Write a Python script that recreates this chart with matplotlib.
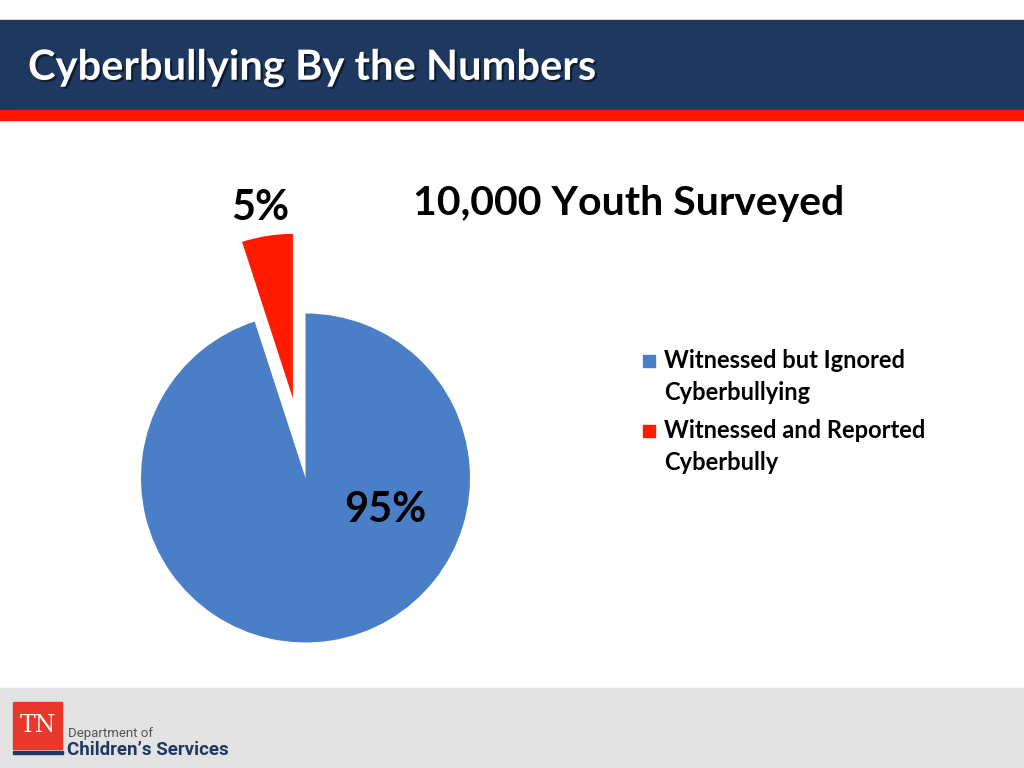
import matplotlib
matplotlib.use("Agg")
import matplotlib.pyplot as plt
from matplotlib.patches import Rectangle
import matplotlib.patheffects as pe

categories = ["Witnessed but Ignored\nCyberbullying", "Witnessed and Reported\nCyberbully"]
values = [95, 5]
value_labels = ["95%", "5%"]
colors = ["#4A7EC7", "#FF1A00"]
title = "Cyberbullying By the Numbers"
subtitle = "10,000 Youth Surveyed"

W, H = 1024, 768
fig = plt.figure(figsize=(W / 100, H / 100), dpi=100)
fig.patch.set_facecolor("white")

FONT = "Lato"

# background / decoration axes in pixel coords (y down)
bg = fig.add_axes([0, 0, 1, 1])
bg.set_xlim(0, W)
bg.set_ylim(H, 0)
bg.axis("off")
bg.add_patch(Rectangle((0, 20), W, 90, color="#1E3860", zorder=1))
bg.add_patch(Rectangle((0, 110), W, 10, color="#FF1500", zorder=1))
bg.add_patch(Rectangle((0, 688), W, 80, color="#E3E3E3", zorder=1))
bg.text(28, 68, title, color="white", fontsize=30, fontweight="bold",
        family=FONT, va="center", ha="left", zorder=3,
        path_effects=[pe.withSimplePatchShadow(offset=(1.5, -1.5), shadow_rgbFace="black", alpha=0.5)])
# logo
bg.add_patch(Rectangle((13, 702), 49, 47, color="#E8382B", zorder=2))
bg.add_patch(Rectangle((13, 751), 50, 3, color="#1E3860", zorder=2))
bg.text(37.5, 725, "TN", color="white", fontsize=17, family="DejaVu Serif",
        va="center", ha="center", zorder=3)
bg.text(68, 733, "Department of", color="#555555", fontsize=9.5, family="Roboto",
        va="center", ha="left", zorder=3)
bg.text(67, 750, "Children\u2019s Services", color="#1E3860", fontsize=13.5,
        fontweight="bold", family="Roboto", va="center", ha="left", zorder=3)

bg.text(629, 203, subtitle, color="black", fontsize=29.5, fontweight="bold",
        family=FONT, va="center", ha="center", zorder=3)

# pie axes: full figure, data units = pixels (y up)
ax = fig.add_axes([0, 0, 1, 1])
ax.patch.set_alpha(0)
cx, cy, r = 305.5, H - 478, 164.5
wedges, _ = ax.pie(values, colors=colors, startangle=90, counterclock=False,
                   explode=[0, 0.49 * r], center=(cx, cy), radius=r,
                   wedgeprops=dict(linewidth=0))
ax.set_xlim(0, W)
ax.set_ylim(0, H)
ax.set_aspect("equal", adjustable="box")
ax.axis("off")

ax.text(385, H - 510, value_labels[0], fontsize=30, fontweight="bold", family=FONT,
        va="center", ha="center", zorder=5)
ax.text(260, H - 208, value_labels[1], fontsize=30, fontweight="bold", family=FONT,
        va="center", ha="center", zorder=5)

# legend (square aligned to first line of each label)
for i, (lab, col) in enumerate(zip(categories, colors)):
    y0 = 361 + 70 * i
    bg.add_patch(Rectangle((643, y0 - 6), 12, 12, color=col, zorder=3))
    bg.text(664, y0 + 15.5, lab, fontsize=17, fontweight="bold", family=FONT,
            va="center", ha="left", linespacing=1.46, zorder=3)

fig.savefig("out.png", dpi=100)
